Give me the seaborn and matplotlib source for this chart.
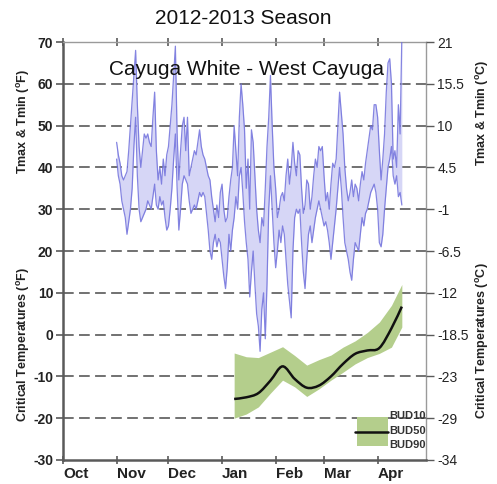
import numpy as np
import pandas as pd
import matplotlib
matplotlib.use("Agg")
import matplotlib.pyplot as plt
from matplotlib.path import Path
from matplotlib.patches import PathPatch, Rectangle
from matplotlib.lines import Line2D
import seaborn as sns

# ---- data -----------------------------------------------------------------
# day index counted from 1 October 2012
month_ticks = [0, 31, 61, 92, 123, 151, 182]
month_labels = ["Oct", "Nov", "Dec", "Jan", "Feb", "Mar", "Apr"]

temp_days = list(range(31, 197))  # 1 Nov 2012 .. 15 Apr 2013

tmax_f = [
    46, 43, 41, 38, 37, 38, 39, 44, 50, 56,
    62, 68, 55, 45, 40, 44, 48, 47, 48, 46,
    45, 52, 58, 44, 37, 40, 36, 42, 38, 43,
    45, 50, 55, 62, 69, 48, 37, 44, 50, 52,
    44, 52, 38, 40, 42, 44, 43, 46, 49, 45,
    43, 42, 40, 38, 37, 33, 30, 27, 31, 28,
    34, 36, 30, 27, 28, 33, 37, 40, 50, 44,
    38, 52, 60, 55, 49, 35, 42, 30, 49, 46,
    38, 30, 25, 22, 28, 26, 35, 45, 52, 62,
    50, 40, 35, 28, 30, 33, 34, 32, 38, 42,
    36, 40, 46, 41, 38, 44, 43, 35, 29, 31,
    37, 36, 30, 33, 38, 42, 40, 45, 44, 45,
    38, 32, 34, 30, 36, 41, 40, 42, 50, 58,
    53, 48, 40, 35, 32, 34, 37, 33, 36, 35,
    32, 36, 39, 37, 41, 44, 47, 50, 49, 55,
    55, 52, 44, 37, 42, 48, 58, 65, 66, 60,
    42, 44, 40, 55, 48, 71,
]

tmin_f = [
    42, 38, 36, 32, 30, 28, 24, 27, 30, 35,
    45, 52, 38, 30, 27, 28, 29, 30, 32, 31,
    30, 33, 36, 31, 30, 33, 31, 32, 28, 25,
    26, 30, 35, 42, 48, 35, 25, 30, 36, 38,
    37, 36, 32, 29, 30, 31, 30, 32, 34, 33,
    34, 33, 29, 25, 20, 18, 22, 24, 21, 23,
    22, 18, 14, 11, 16, 24, 20, 25, 28, 33,
    30, 38, 40, 34, 27, 22, 18, 9, 15, 20,
    12, 5, 2, -4, 6, 10, -1, 12, 30, 38,
    30, 22, 16, 20, 25, 22, 26, 24, 18, 12,
    8, 4, 20, 28, 30, 29, 30, 22, 15, 11,
    18, 24, 26, 22, 25, 28, 30, 32, 30, 28,
    26, 27, 25, 22, 18, 22, 26, 30, 35, 40,
    35, 28, 22, 20, 18, 15, 13, 18, 22, 21,
    20, 24, 28, 26, 29, 30, 32, 34, 35, 36,
    34, 30, 22, 21, 24, 30, 35, 40, 42, 45,
    38, 36, 38, 33, 34, 31,
]

# critical bud temperatures (°F), sampled weekly
crit_days = [99, 106, 113, 120, 127, 134, 141, 148, 155, 162, 169, 176, 183, 190, 196]
bud10 = [-4.4, -5.3, -5.5, -4.2, -2.9, -5.0, -7.3, -6.0, -4.9, -3.0, -1.5, 0.5, 3.0, 7.0, 12.0]
bud50 = [-15.4, -15.0, -14.0, -11.0, -7.6, -10.6, -12.7, -12.2, -10.0, -7.0, -4.6, -3.8, -3.2, 1.5, 6.7]
bud90 = [-20.0, -19.0, -17.3, -14.0, -10.9, -12.5, -14.8, -13.0, -10.9, -9.0, -7.0, -5.5, -4.5, -3.0, 1.8]

f_ticks = [70, 60, 50, 40, 30, 20, 10, 0, -10, -20, -30]
c_labels = ["21", "15.5", "10", "4.5", "-1", "-6.5", "-12", "-18.5", "-23", "-29", "-34"]

# ---- style ----------------------------------------------------------------
sns.set_style("white")
plt.rcParams["font.family"] = ["Liberation Sans", "DejaVu Sans"]
plt.rcParams["mathtext.fontset"] = "custom"
plt.rcParams["mathtext.rm"] = "Liberation Sans"
plt.rcParams["mathtext.bf"] = "Liberation Sans:bold"

line_col = "#7070dc"
fill_col = "#d6d6f6"
band_col = "#b4ce8c"
axis_col = "#5a5a5a"

fig = plt.figure(figsize=(4.97, 4.84), dpi=100)
ax = fig.add_axes([0.1268, 0.0496, 0.7304, 0.8636])

temps = pd.DataFrame({"day": temp_days, "Tmax": tmax_f, "Tmin": tmin_f})

# daily temperature envelope
ax.fill_between(temps["day"], temps["Tmin"], temps["Tmax"], color=fill_col, lw=0, zorder=2)
sns.lineplot(data=temps, x="day", y="Tmax", ax=ax, color=line_col, lw=0.9, alpha=0.85, zorder=3)
sns.lineplot(data=temps, x="day", y="Tmin", ax=ax, color=line_col, lw=0.9, alpha=0.85, zorder=3)

# critical temperature band and smoothed BUD50 curve
crit = pd.DataFrame({"day": crit_days, "BUD10": bud10, "BUD50": bud50, "BUD90": bud90})
ax.fill_between(crit["day"], crit["BUD90"], crit["BUD10"], color=band_col, lw=0, zorder=2)


def smooth_path(xs, ys):
    xs = np.asarray(xs, float)
    ys = np.asarray(ys, float)
    n = len(xs)
    verts = [(xs[0], ys[0])]
    codes = [Path.MOVETO]
    for i in range(n - 1):
        a = max(i - 1, 0)
        d = min(i + 2, n - 1)
        c1 = (xs[i] + (xs[i + 1] - xs[a]) / 6, ys[i] + (ys[i + 1] - ys[a]) / 6)
        c2 = (xs[i + 1] - (xs[d] - xs[i]) / 6, ys[i + 1] - (ys[d] - ys[i]) / 6)
        verts += [c1, c2, (xs[i + 1], ys[i + 1])]
        codes += [Path.CURVE4] * 3
    return Path(verts, codes)


ax.add_patch(PathPatch(smooth_path(crit["day"], crit["BUD50"]), fill=False,
                       edgecolor="#111111", lw=1.8, zorder=4))

# axes, grid and ticks
ax.set_xlim(0, 210)
ax.set_ylim(-30, 70)
for y in f_ticks[1:-1]:
    ax.axhline(y, color="#4a4a4a", lw=1.1, ls=(0, (7, 3.5)), zorder=1)

ax.set_xticks(month_ticks)
ax.set_xticklabels(month_labels, fontsize=11, fontweight="bold", color="#222222")
for lab in ax.get_xticklabels():
    lab.set_horizontalalignment("left")
ax.tick_params(axis="x", direction="inout", length=6, width=1.2, color=axis_col, pad=2,
               top=True, bottom=True)

ax.set_yticks(f_ticks)
ax.set_yticklabels([str(v) for v in f_ticks], fontsize=10, fontweight="bold", color="#222222")
ax.tick_params(axis="y", direction="out", length=5, width=1.2, color=axis_col, pad=2)
ax.set_xlabel("")
ax.set_ylabel("")

for side in ["left", "bottom"]:
    ax.spines[side].set_color(axis_col)
    ax.spines[side].set_linewidth(1.8)
for side in ["top", "right"]:
    ax.spines[side].set_color("#9a9a9a")
    ax.spines[side].set_linewidth(1.0)

axr = ax.twinx()
axr.set_ylim(ax.get_ylim())
axr.set_yticks(f_ticks)
axr.set_yticklabels(c_labels, fontsize=10, color="#222222")
axr.tick_params(axis="y", direction="out", length=6, width=1.0, color=axis_col, pad=2)
for s in axr.spines.values():
    s.set_visible(False)

# text
fig.text(0.49, 0.962, "2012-2013 Season", ha="center", va="center", fontsize=15, color="#111111")
ax.text(0.505, 0.935, "Cayuga White - West Cayuga", transform=ax.transAxes,
        ha="center", va="center", fontsize=15, color="#111111", zorder=5)

lab_kw = dict(rotation=90, ha="center", va="center", fontsize=9, fontweight="bold", color="#222222")
fig.text(0.047, 1 - 121 / 484, r"Tmax & Tmin ($^{\mathbf{o}}$F)", **lab_kw)
fig.text(0.047, 1 - 344 / 484, r"Critical Temperatures ($^{\mathbf{o}}$F)", **lab_kw)
fig.text(0.970, 1 - 113 / 484, r"Tmax & Tmin ($^{\mathbf{o}}$C)", **lab_kw)
fig.text(0.970, 1 - 341 / 484, r"Critical Temperatures ($^{\mathbf{o}}$C)", **lab_kw)

# legend key
key_x0, key_x1 = 170, 188
ax.add_patch(Rectangle((key_x0, -26.6), key_x1 - key_x0, 6.9, color=band_col, lw=0, zorder=5))
ax.add_line(Line2D([key_x0 - 1, key_x1], [-23.2, -23.2], color="#111111", lw=1.8, zorder=6))
for yv, name in zip([-19.4, -23.0, -26.4], ["BUD10", "BUD50", "BUD90"]):
    ax.text(188.5, yv, name, ha="left", va="center", fontsize=8, fontweight="bold",
            color="#333333", zorder=6)

fig.savefig("out.png", dpi=100)
